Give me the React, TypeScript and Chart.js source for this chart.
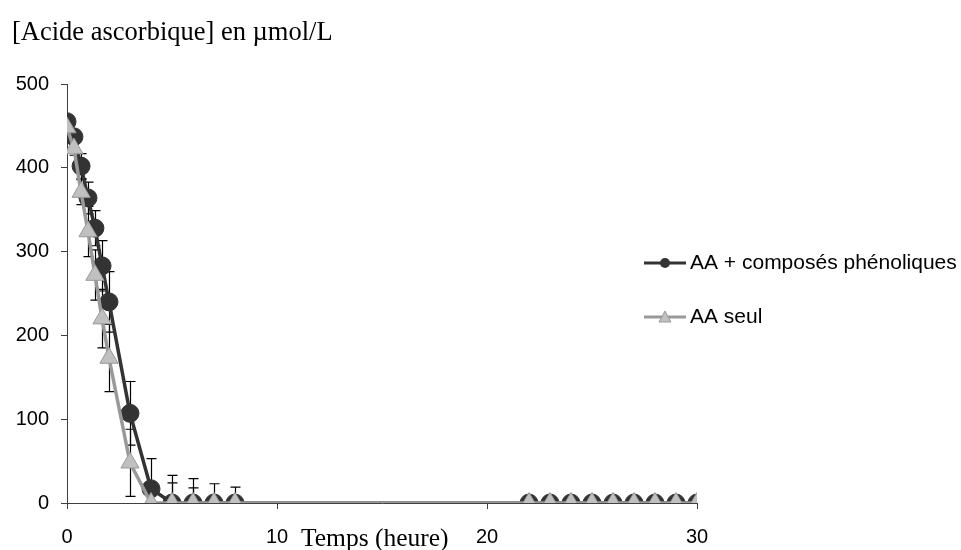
import React, { useEffect, useRef } from "react";
import { Chart, registerables } from "chart.js";

Chart.register(...registerables);

const times = [0, 0.33, 0.67, 1, 1.33, 1.67, 2, 3, 4, 5, 6, 7, 8, 22, 23, 24, 25, 26, 27, 28, 29, 30];
const aaPhenol = [455, 437, 402, 364, 328, 283, 240, 107, 17, 0, 0, 0, 0, 0, 0, 0, 0, 0, 0, 0, 0, 0];
const aaPhenolErr = [5, 6, 15, 19, 21, 30, 36, 38, 36, 33, 29, 23, 19, 0, 0, 0, 0, 0, 0, 0, 0, 0];
const aaSeul = [448, 423, 371, 324, 272, 220, 173, 48, 0, 0, 0, 0, 0, 0, 0, 0, 0, 0, 0, 0, 0, 0];
const aaSeulErr = [5, 8, 15, 30, 30, 35, 40, 40, 0, 24, 18, 8, 6, 0, 0, 0, 0, 0, 0, 0, 0, 0];
const seriesNames = ["AA + composés phénoliques", "AA seul"];
const yTitle = "[Acide ascorbique] en µmol/L";
const xTitle = "Temps (heure)";

const DARK = "#333333";
const GRAY_LINE = "#999999";
const GRAY_FILL = "#c0c0c0";

const errorBarPlugin = {
  id: "errorBars",
  beforeDatasetsDraw(chart: any) {
    const { ctx, chartArea, scales } = chart;
    const xs = scales.x;
    const ys = scales.y;
    ctx.save();
    ctx.beginPath();
    ctx.rect(chartArea.left, chartArea.top - 20, chartArea.right - chartArea.left, chartArea.bottom - chartArea.top + 20);
    ctx.clip();
    ctx.strokeStyle = "#000";
    ctx.lineWidth = 1.2;
    const draw = (vals: number[], errs: number[]) => {
      times.forEach((t, i) => {
        const e = errs[i];
        if (!e) return;
        const x = Math.round(xs.getPixelForValue(t)) + 0.5;
        const y1 = ys.getPixelForValue(vals[i] + e);
        const y0 = ys.getPixelForValue(vals[i] - e);
        ctx.beginPath();
        ctx.moveTo(x, y1);
        ctx.lineTo(x, y0);
        ctx.moveTo(x - 5, y1);
        ctx.lineTo(x + 5, y1);
        ctx.moveTo(x - 5, y0);
        ctx.lineTo(x + 5, y0);
        ctx.stroke();
      });
    };
    draw(aaPhenol, aaPhenolErr);
    draw(aaSeul, aaSeulErr);
    ctx.restore();
  },
};

const textPlugin = {
  id: "customText",
  afterDraw(chart: any) {
    const { ctx } = chart;
    ctx.save();
    ctx.fillStyle = "#000";
    ctx.textBaseline = "alphabetic";
    ctx.textAlign = "left";
    ctx.font = "26.5px 'Liberation Serif', 'Times New Roman', serif";
    ctx.fillText(yTitle, 12, 40);
    ctx.font = "25.5px 'Liberation Serif', 'Times New Roman', serif";
    ctx.fillText(xTitle, 301, 546);

    // legend
    const lx0 = 644;
    const lx1 = 686;
    const mx = (lx0 + lx1) / 2;
    const rows = [263, 317];
    ctx.font = "21px 'Liberation Sans', Arial, sans-serif";
    ctx.textBaseline = "middle";
    // row 1
    ctx.strokeStyle = DARK;
    ctx.lineWidth = 3;
    ctx.beginPath();
    ctx.moveTo(lx0, rows[0]);
    ctx.lineTo(lx1, rows[0]);
    ctx.stroke();
    ctx.fillStyle = DARK;
    ctx.beginPath();
    ctx.arc(mx, rows[0], 5, 0, Math.PI * 2);
    ctx.fill();
    ctx.fillStyle = "#000";
    ctx.fillText(seriesNames[0], 690, rows[0]);
    // row 2
    ctx.strokeStyle = GRAY_LINE;
    ctx.lineWidth = 3;
    ctx.beginPath();
    ctx.moveTo(lx0, rows[1]);
    ctx.lineTo(lx1, rows[1]);
    ctx.stroke();
    ctx.fillStyle = GRAY_FILL;
    ctx.strokeStyle = GRAY_LINE;
    ctx.lineWidth = 1;
    ctx.beginPath();
    ctx.moveTo(mx, rows[1] - 6);
    ctx.lineTo(mx + 6, rows[1] + 5);
    ctx.lineTo(mx - 6, rows[1] + 5);
    ctx.closePath();
    ctx.fill();
    ctx.stroke();
    ctx.fillStyle = "#000";
    ctx.fillText(seriesNames[1], 690, rows[1]);
    ctx.restore();
  },
};

export default function App() {
  const ref = useRef<HTMLCanvasElement | null>(null);
  useEffect(() => {
    if (!ref.current) return;
    const chart = new Chart(ref.current, {
      type: "line",
      data: {
        datasets: [
          {
            label: seriesNames[0],
            data: times.map((t, i) => ({ x: t, y: aaPhenol[i] })),
            borderColor: DARK,
            backgroundColor: DARK,
            borderWidth: 3.5,
            pointStyle: "circle",
            pointRadius: 9,
            pointBorderWidth: 1,
            pointBorderColor: DARK,
            pointBackgroundColor: DARK,
            order: 1,
            tension: 0,
          },
          {
            label: seriesNames[1],
            data: times.map((t, i) => ({ x: t, y: aaSeul[i] })),
            borderColor: GRAY_LINE,
            backgroundColor: GRAY_FILL,
            borderWidth: 3.5,
            pointStyle: "triangle",
            pointRadius: 10.5,
            pointBorderWidth: 1,
            pointBorderColor: GRAY_LINE,
            pointBackgroundColor: GRAY_FILL,
            order: 0,
            tension: 0,
          },
        ],
      },
      options: {
        animation: false,
        responsive: true,
        maintainAspectRatio: false,
        layout: { padding: { left: 0, top: 84, right: 264, bottom: 0 } },
        plugins: {
          legend: { display: false },
          tooltip: { enabled: false },
          title: { display: false },
        },
        scales: {
          x: {
            type: "linear",
            min: 0,
            max: 30,
            afterFit: (s: any) => {
              s.height = 47;
            },
            ticks: {
              stepSize: 10,
              color: "#000",
              font: { family: "'Liberation Sans', Arial, sans-serif", size: 20 },
              padding: 16,
              maxRotation: 0,
            },
            grid: {
              display: true,
              drawOnChartArea: false,
              drawTicks: true,
              tickLength: 6,
              color: "#404040",
            },
            border: { display: true, color: "#404040", width: 1 },
          },
          y: {
            type: "linear",
            min: 0,
            max: 500,
            afterFit: (s: any) => {
              s.width = 67;
            },
            ticks: {
              stepSize: 100,
              color: "#000",
              font: { family: "'Liberation Sans', Arial, sans-serif", size: 20 },
              padding: 12,
            },
            grid: {
              display: true,
              drawOnChartArea: false,
              drawTicks: true,
              tickLength: 6,
              color: "#404040",
            },
            border: { display: true, color: "#404040", width: 1 },
          },
        },
      },
      plugins: [errorBarPlugin, textPlugin],
    });
    return () => chart.destroy();
  }, []);
  return (
    <div style={{ position: "fixed", left: 0, top: 0, width: 961, height: 550, background: "#fff" }}>
      <canvas ref={ref} />
    </div>
  );
}
